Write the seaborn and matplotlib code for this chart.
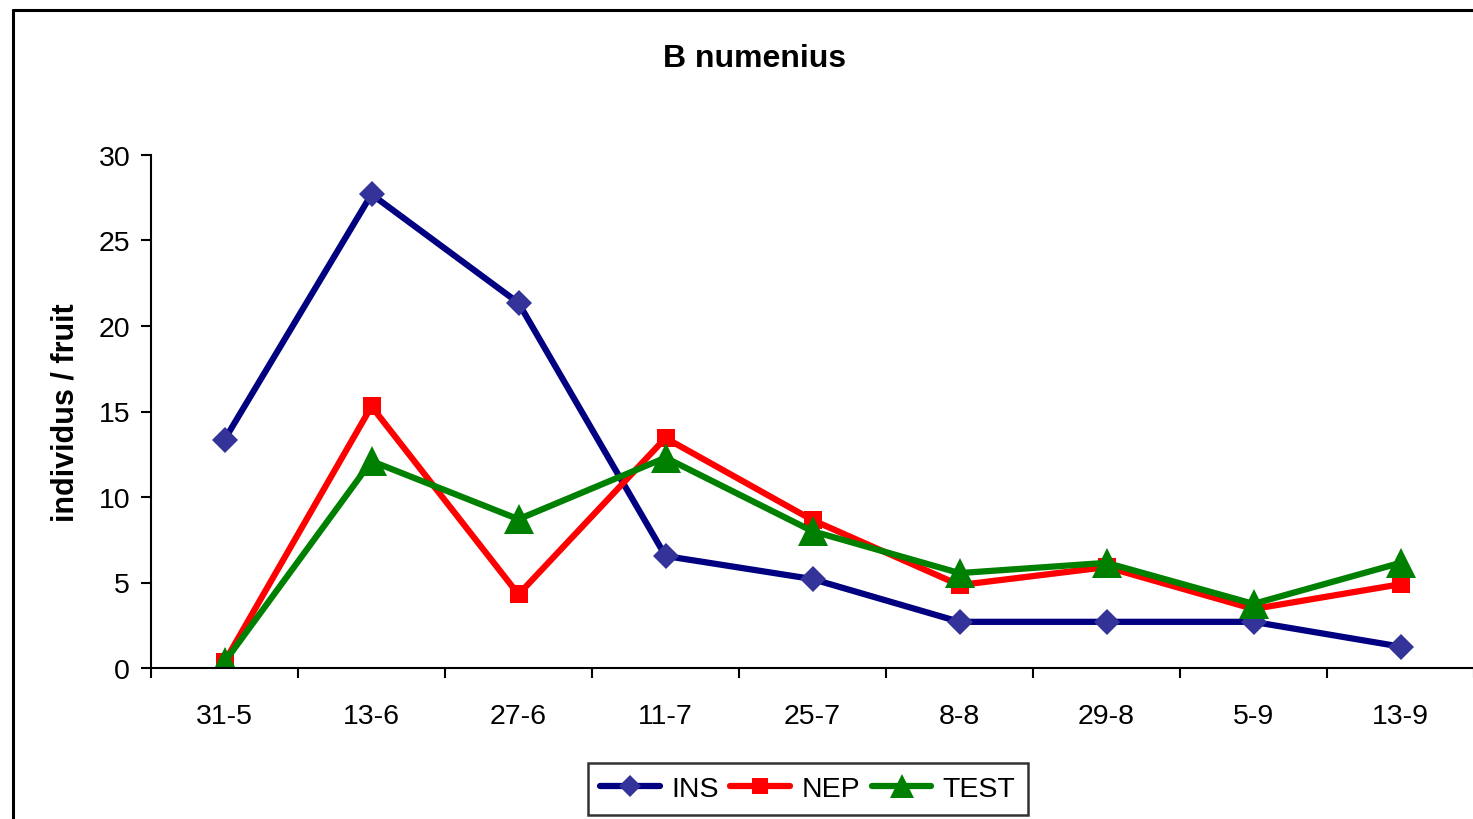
import matplotlib
matplotlib.use("Agg")
import matplotlib.pyplot as plt
import seaborn as sns
import pandas as pd
from matplotlib.lines import Line2D

dates = ["31-5", "13-6", "27-6", "11-7", "25-7", "8-8", "29-8", "5-9", "13-9"]
ins = [13.35, 27.7, 21.35, 6.55, 5.2, 2.7, 2.7, 2.7, 1.25]
nep = [0.35, 15.3, 4.3, 13.45, 8.65, 4.85, 5.9, 3.45, 4.9]
test = [0.35, 12.1, 8.7, 12.3, 8.0, 5.55, 6.15, 3.75, 6.15]

sns.set_theme(style="white")
plt.rcParams['font.family'] = ['Liberation Sans', 'DejaVu Sans']
plt.rcParams['text.color'] = 'black'

fig = plt.figure(figsize=(14.73, 8.2), dpi=100)
ax = fig.add_axes([151/1473, 1-669/820, 1323/1473, 513/820])

series = [
    ("INS", ins, "#000080", "#333399", "D", 13),
    ("NEP", nep, "#FF0000", "#FF0000", "s", 13),
    ("TEST", test, "#008000", "#008000", "^", 21),
]
for name, vals, lc, mc, mk, ms in series:
    df = pd.DataFrame({"date": dates, "val": vals})
    sns.lineplot(data=df, x="date", y="val", ax=ax, color=lc, lw=4.5,
                 marker=mk, markersize=ms, markerfacecolor=mc,
                 markeredgecolor=mc, markeredgewidth=0, label=name, sort=False)

ax.set_xlim(-0.5, 8.5)
ax.set_ylim(0, 30)
ax.set_yticks([0, 5, 10, 15, 20, 25, 30])
ax.set_xticks(range(len(dates)))
ax.set_xticklabels(dates)
ax.set_xticks([i - 0.5 for i in range(len(dates) + 1)], minor=True)
ax.tick_params(axis="x", which="major", length=0, labelsize=20.5, pad=25, colors="black")
ax.tick_params(axis="x", which="minor", length=7, width=1.5, direction="out", bottom=True, color="black")
ax.tick_params(axis="y", length=7, width=1.5, direction="out", left=True, labelsize=20.5, pad=8, colors="black")
for s in ["top", "right"]:
    ax.spines[s].set_visible(False)
for s in ["left", "bottom"]:
    ax.spines[s].set_color("black")
    ax.spines[s].set_linewidth(1.5)
ax.set_xlabel("")
ax.set_ylabel("individus / fruit", fontsize=22, fontweight="bold", color="black")
ax.yaxis.set_label_coords(-0.053, 0.5)
ax.grid(False)

fig.text(755/1473, 1-59/820, "B numenius", ha="center", va="center",
         fontsize=23, fontweight="bold", color="black")

leg = ax.legend(loc="center", bbox_to_anchor=(808/1473, 1-790/820),
                bbox_transform=fig.transFigure, ncol=3, fontsize=20.5,
                frameon=True, fancybox=False, edgecolor="black",
                handlelength=2.1, columnspacing=0.4, handletextpad=0.4,
                borderpad=0.45, markerscale=0.85, labelcolor="black")
leg.get_frame().set_linewidth(1.8)

# outer chart border (left and top visible)
fig.add_artist(Line2D([13/1473, 13/1473], [0, 1-11/820], transform=fig.transFigure, color="black", lw=2.2))
fig.add_artist(Line2D([13/1473, 1], [1-11/820, 1-11/820], transform=fig.transFigure, color="black", lw=2.2))

fig.savefig("out.png", dpi=100)
